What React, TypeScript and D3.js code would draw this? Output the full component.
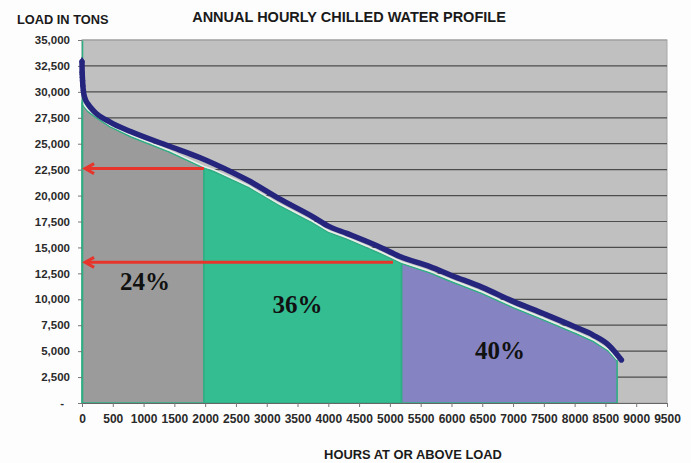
import { FC, useEffect, useRef } from 'react';
import * as d3 from 'd3';

// Load duration curve: hours at or above load (x) vs load in tons (y)
const curveHours = [0, 2, 4, 6, 9, 14, 22, 50, 100, 200, 450, 800, 1400, 1900, 2150, 2700, 3200, 3750, 4000, 4300, 4850, 5150, 5650, 6000, 6500, 7000, 7500, 8000, 8300, 8550, 8760];
const curveLoad = [32900, 31900, 31700, 31400, 31100, 30600, 30100, 29350, 28800, 28100, 27100, 26150, 24800, 23700, 23050, 21450, 19700, 17950, 17050, 16350, 15000, 14150, 13150, 12300, 11150, 9800, 8600, 7350, 6550, 5600, 4150];

// Shaded area under the curve
const areaHours = [0, 50, 100, 200, 450, 800, 1400, 1980, 2150, 2700, 3200, 3750, 4000, 4300, 4850, 5190, 5650, 6000, 6500, 7000, 7500, 8000, 8300, 8550, 8690];
const areaLoad = [28950, 28450, 28100, 27650, 26650, 25650, 24250, 22650, 22300, 20800, 19050, 17350, 16450, 15800, 14400, 13450, 12550, 11700, 10550, 9200, 8000, 6750, 5950, 5000, 4050];

// Bands of the area (start hour, end hour) and their share
const bandStart = [0, 1980, 5190];
const bandEnd = [1980, 5190, 8690];
const bandLabels = ['24%', '36%', '40%'];
const bandColors = ['#9b9b9b', '#33bd91', '#8583c1'];
const labelHours = [1023, 3500, 6790];
const labelLoad = [10890, 8680, 4240];

// Red arrows (load level, from hour)
const arrowLoad = [22600, 13560];
const arrowFrom = [1980, 5050];

const yTicks = d3.range(0, 35001, 2500);
const xTicks = d3.range(0, 9501, 500);

const LoadChart: FC = () => {
  const chartRef = useRef<SVGSVGElement>(null);

  useEffect(() => {
    const svg = d3.select(chartRef.current);
    svg.selectAll('*').remove();

    const left = 82;
    const right = 667;
    const top = 40;
    const bottom = 403;

    const x = d3.scaleLinear().domain([0, 9500]).range([left, right]);
    const y = d3.scaleLinear().domain([0, 35000]).range([bottom, top]);

    const font = "'Liberation Sans', Arial, sans-serif";

    // Plot background
    svg
      .append('rect')
      .attr('x', left)
      .attr('y', top)
      .attr('width', right - left)
      .attr('height', bottom - top)
      .attr('fill', '#c0c0c0')
      .attr('stroke', '#a8a8a8');

    // Gridlines
    svg
      .append('g')
      .selectAll('line')
      .data(yTicks.filter((t) => t > 0))
      .enter()
      .append('line')
      .attr('x1', left)
      .attr('x2', right)
      .attr('y1', (d) => y(d))
      .attr('y2', (d) => y(d))
      .attr('stroke', (d) => (d === 35000 ? '#9a9a9a' : '#4c4c4c'))
      .attr('stroke-width', 1.2);

    // Area bands
    const pts = areaHours.map((h, i) => [h, areaLoad[i]] as [number, number]);
    const area = d3
      .area<[number, number]>()
      .x((d) => x(d[0]))
      .y0(y(0))
      .y1((d) => y(d[1]));

    bandStart.forEach((s, i) => {
      const seg = pts.filter((p) => p[0] >= s && p[0] <= bandEnd[i]);
      svg
        .append('path')
        .datum(seg)
        .attr('d', area)
        .attr('fill', bandColors[i])
        .attr('stroke', '#2fae84')
        .attr('stroke-width', 1.6);
    });

    // Pale edge between area and curve
    const topLine = d3
      .line<[number, number]>()
      .x((d) => x(d[0]))
      .y((d) => y(d[1]));
    svg
      .append('path')
      .datum(pts)
      .attr('d', topLine)
      .attr('transform', 'translate(0,-1.6)')
      .attr('fill', 'none')
      .attr('stroke', '#e6efe9')
      .attr('stroke-width', 1.6);

    // Axes
    const yAxis = svg
      .append('g')
      .attr('transform', `translate(${left},0)`)
      .call(
        d3
          .axisLeft(y)
          .tickValues(yTicks)
          .tickSize(4)
          .tickSizeOuter(0)
          .tickPadding(8)
          .tickFormat((d) => (+d === 0 ? '-' : d3.format(',')(+d)))
      );
    yAxis.select('.domain').attr('stroke', '#2fae84').attr('stroke-width', 1.6);
    yAxis.selectAll('line').attr('stroke', '#777');
    yAxis
      .selectAll('text')
      .attr('font-family', font)
      .attr('font-weight', 'bold')
      .attr('font-size', 11.5)
      .attr('fill', '#2a2a2a')
      .attr('dx', (d) => (+d === 0 ? -6 : 0));

    const xAxis = svg
      .append('g')
      .attr('transform', `translate(0,${bottom})`)
      .call(
        d3
          .axisBottom(x)
          .tickValues(xTicks)
          .tickSize(4)
          .tickSizeOuter(0)
          .tickPadding(7)
          .tickFormat((d) => String(d))
      );
    xAxis.select('.domain').attr('stroke', '#666').attr('stroke-width', 1.2);
    xAxis.selectAll('line').attr('stroke', '#777');
    xAxis
      .selectAll('text')
      .attr('font-family', font)
      .attr('font-weight', 'bold')
      .attr('font-size', 12)
      .attr('fill', '#2a2a2a');

    // Red arrows
    arrowLoad.forEach((v, i) => {
      const ay = y(v);
      const tip = x(50);
      svg
        .append('line')
        .attr('x1', x(arrowFrom[i]))
        .attr('x2', tip + 1)
        .attr('y1', ay)
        .attr('y2', ay)
        .attr('stroke', '#e8352c')
        .attr('stroke-width', 3);
      svg
        .append('path')
        .attr('d', `M${tip + 9},${ay - 5}L${tip},${ay}L${tip + 9},${ay + 5}`)
        .attr('fill', 'none')
        .attr('stroke', '#e8352c')
        .attr('stroke-width', 3)
        .attr('stroke-linejoin', 'miter');
    });

    // Load curve
    const curvePts = curveHours.map((h, i) => [h, curveLoad[i]] as [number, number]);
    const line = d3
      .line<[number, number]>()
      .x((d) => x(d[0]))
      .y((d) => y(d[1]))
      .curve(d3.curveMonotoneX);
    svg
      .append('path')
      .datum(curvePts)
      .attr('d', line)
      .attr('fill', 'none')
      .attr('stroke', '#25257e')
      .attr('stroke-width', 5.5)
      .attr('stroke-linecap', 'round')
      .attr('stroke-linejoin', 'round');

    svg
      .append('g')
      .selectAll('path')
      .data(curvePts.filter((d) => d[0] < 30))
      .enter()
      .append('path')
      .attr('d', d3.symbol().type(d3.symbolDiamond).size(28))
      .attr('transform', (d) => `translate(${x(d[0])},${y(d[1])})`)
      .attr('fill', '#25257e');

    // Percent labels
    svg
      .append('g')
      .selectAll('text')
      .data(bandLabels)
      .enter()
      .append('text')
      .attr('x', (_, i) => x(labelHours[i]))
      .attr('y', (_, i) => y(labelLoad[i]))
      .attr('text-anchor', 'middle')
      .attr('font-family', "'Liberation Serif', 'Times New Roman', serif")
      .attr('font-weight', 'bold')
      .attr('font-size', 25)
      .attr('fill', '#111')
      .text((d) => d);

    // Titles
    svg
      .append('text')
      .attr('x', 349)
      .attr('y', 21.5)
      .attr('text-anchor', 'middle')
      .attr('font-family', font)
      .attr('font-weight', 'bold')
      .attr('font-size', 14.5)
      .attr('fill', '#1a1a1a')
      .text('ANNUAL HOURLY CHILLED WATER PROFILE');

    svg
      .append('text')
      .attr('x', 17)
      .attr('y', 24)
      .attr('font-family', font)
      .attr('font-weight', 'bold')
      .attr('font-size', 12.8)
      .attr('fill', '#1a1a1a')
      .text('LOAD IN TONS');

    svg
      .append('text')
      .attr('x', 413)
      .attr('y', 459)
      .attr('text-anchor', 'middle')
      .attr('font-family', font)
      .attr('font-weight', 'bold')
      .attr('font-size', 12.9)
      .attr('fill', '#1a1a1a')
      .text('HOURS AT OR ABOVE LOAD');
  }, []);

  return (
    <svg
      ref={chartRef}
      width={691}
      height={463}
      style={{ position: 'absolute', left: 0, top: 0, background: '#fdfdfd' }}
    />
  );
};

export default function App() {
  return <LoadChart />;
}
